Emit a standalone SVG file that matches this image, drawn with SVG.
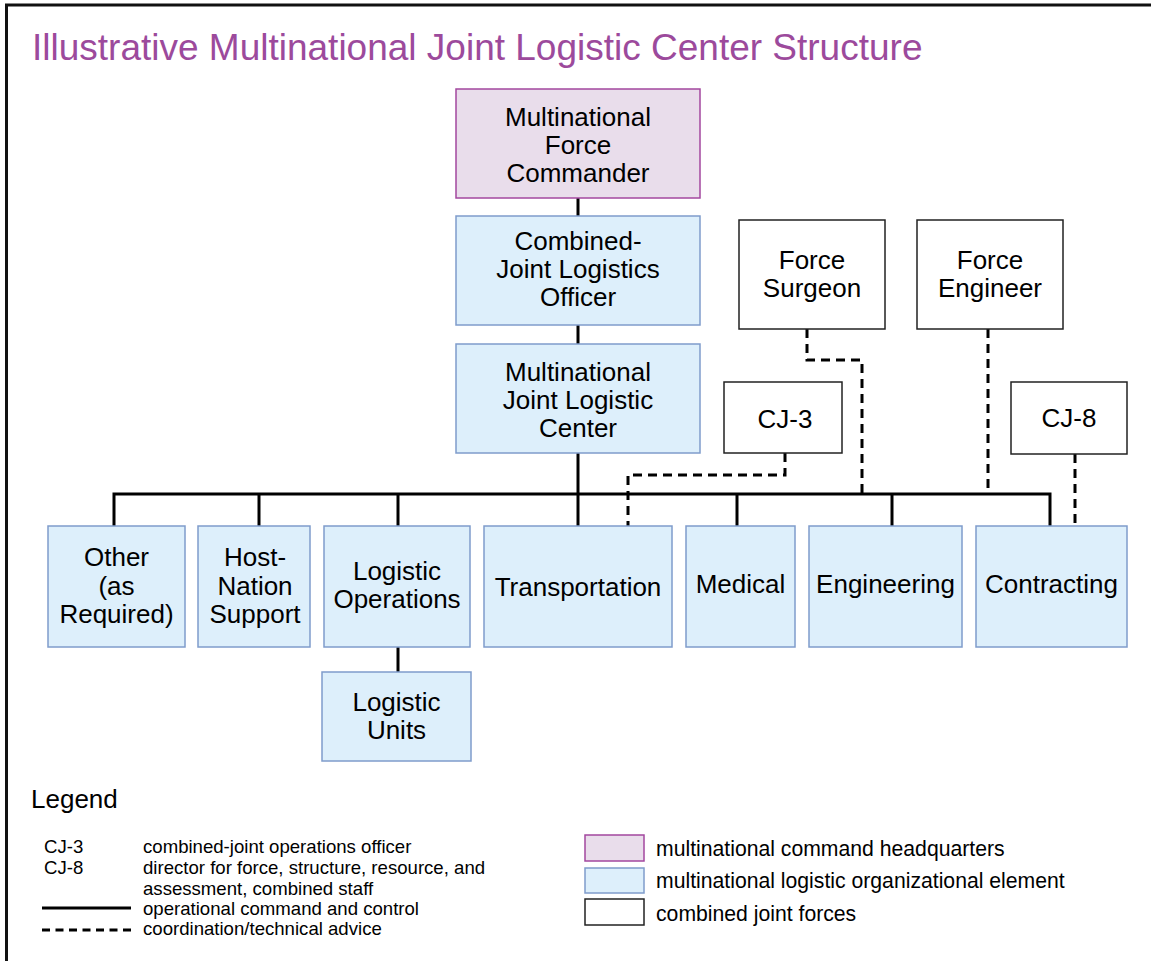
<svg xmlns="http://www.w3.org/2000/svg" width="1151" height="961" viewBox="0 0 1151 961">
<style>
text{font-family:"Liberation Sans",Arial,Helvetica,sans-serif;fill:#000}
.t{font-size:26px;text-anchor:middle}
.title{font-size:37px;fill:#9C4A9C}
.lg{font-size:26px}
.ls{font-size:18.6px}
.lr{font-size:21.2px}
.hq{fill:#E9DDEB;stroke:#A3479F;stroke-width:1.5}
.bl{fill:#DDEFFB;stroke:#7F9CCB;stroke-width:1.5}
.wh{fill:#fff;stroke:#222;stroke-width:1.5}
.solid{fill:none;stroke:#000;stroke-width:3}
.dash{fill:none;stroke:#000;stroke-width:3;stroke-dasharray:9 6}
</style>
<rect x="0" y="0" width="1151" height="961" fill="#fff"/>
<path d="M6.5,961 V5 H1151" fill="none" stroke="#111" stroke-width="3"/>
<text class="title" x="32" y="60">Illustrative Multinational Joint Logistic Center Structure</text>

<g id="connectors">
<path class="solid" d="M578,198 V216"/>
<path class="solid" d="M578,325 V344"/>
<path class="solid" d="M578,453 V526"/>
<path class="solid" d="M114,526 V494 H1050 V526"/>
<path class="solid" d="M259,494 V526"/>
<path class="solid" d="M398,494 V526"/>
<path class="solid" d="M737,494 V526"/>
<path class="solid" d="M892,494 V526"/>
<path class="solid" d="M398,647 V672"/>
<path class="dash" d="M785,453 V475 H628 V526"/>
<path class="dash" d="M807,329 V360 H862 V494"/>
<path class="dash" d="M988,329 V494"/>
<path class="dash" d="M1075,454 V524"/>
</g>

<g id="mfc"><rect class="hq" x="456" y="89" width="244" height="109"/>
<text class="t" x="578" y="126">Multinational</text><text class="t" x="578" y="154">Force</text><text class="t" x="578" y="182">Commander</text></g>

<g id="cjlo"><rect class="bl" x="456" y="216" width="244" height="109"/>
<text class="t" x="578" y="250">Combined-</text><text class="t" x="578" y="278">Joint Logistics</text><text class="t" x="578" y="306">Officer</text></g>

<g id="mjlc"><rect class="bl" x="456" y="344" width="244" height="109"/>
<text class="t" x="578" y="381">Multinational</text><text class="t" x="578" y="409">Joint Logistic</text><text class="t" x="578" y="437">Center</text></g>

<g id="surgeon"><rect class="wh" x="739" y="220" width="146" height="109"/>
<text class="t" x="812" y="269">Force</text><text class="t" x="812" y="297">Surgeon</text></g>

<g id="engineer"><rect class="wh" x="917" y="220" width="146" height="109"/>
<text class="t" x="990" y="269">Force</text><text class="t" x="990" y="297">Engineer</text></g>

<g id="cj3"><rect class="wh" x="724" y="382" width="118" height="71"/>
<text class="t" x="785" y="428">CJ-3</text></g>

<g id="cj8"><rect class="wh" x="1011" y="382" width="116" height="72"/>
<text class="t" x="1069" y="427">CJ-8</text></g>

<g id="other"><rect class="bl" x="48" y="526" width="137" height="121"/>
<text class="t" x="116.5" y="566">Other</text><text class="t" x="116.5" y="595">(as</text><text class="t" x="116.5" y="623">Required)</text></g>

<g id="hns"><rect class="bl" x="198" y="526" width="112" height="121"/>
<text class="t" x="255" y="566">Host-</text><text class="t" x="255" y="595">Nation</text><text class="t" x="255" y="623">Support</text></g>

<g id="logops"><rect class="bl" x="324" y="526" width="146" height="121"/>
<text class="t" x="397" y="580">Logistic</text><text class="t" x="397" y="608">Operations</text></g>

<g id="logunits"><rect class="bl" x="322" y="672" width="149" height="89"/>
<text class="t" x="396.5" y="711">Logistic</text><text class="t" x="396.5" y="739">Units</text></g>

<g id="transportation"><rect class="bl" x="484" y="526" width="188" height="121"/>
<text class="t" x="578" y="596">Transportation</text></g>

<g id="medical"><rect class="bl" x="686" y="526" width="109" height="121"/>
<text class="t" x="740.5" y="593">Medical</text></g>

<g id="engineering"><rect class="bl" x="809" y="526" width="153" height="121"/>
<text class="t" x="885.5" y="593">Engineering</text></g>

<g id="contracting"><rect class="bl" x="976" y="526" width="151" height="121"/>
<text class="t" x="1051.5" y="593">Contracting</text></g>

<g id="legend">
<text class="lg" x="31" y="808">Legend</text>
<text class="ls" x="44" y="853">CJ-3</text>
<text class="ls" x="143" y="853">combined-joint operations officer</text>
<text class="ls" x="44" y="874">CJ-8</text>
<text class="ls" x="143" y="874">director for force, structure, resource, and</text>
<text class="ls" x="143" y="895">assessment, combined staff</text>
<path d="M42,908 H131" fill="none" stroke="#000" stroke-width="3"/>
<text class="ls" x="143" y="915">operational command and control</text>
<path d="M42,930 H131" fill="none" stroke="#000" stroke-width="3" stroke-dasharray="8 5.5"/>
<text class="ls" x="143" y="935">coordination/technical advice</text>
<rect class="hq" x="585" y="835" width="59" height="26"/>
<text class="lr" x="656" y="856">multinational command headquarters</text>
<rect class="bl" x="585" y="868" width="59" height="25"/>
<text class="lr" x="656" y="888">multinational logistic organizational element</text>
<rect class="wh" x="585" y="899" width="59" height="26"/>
<text class="lr" x="656" y="921">combined joint forces</text>
</g>
</svg>
